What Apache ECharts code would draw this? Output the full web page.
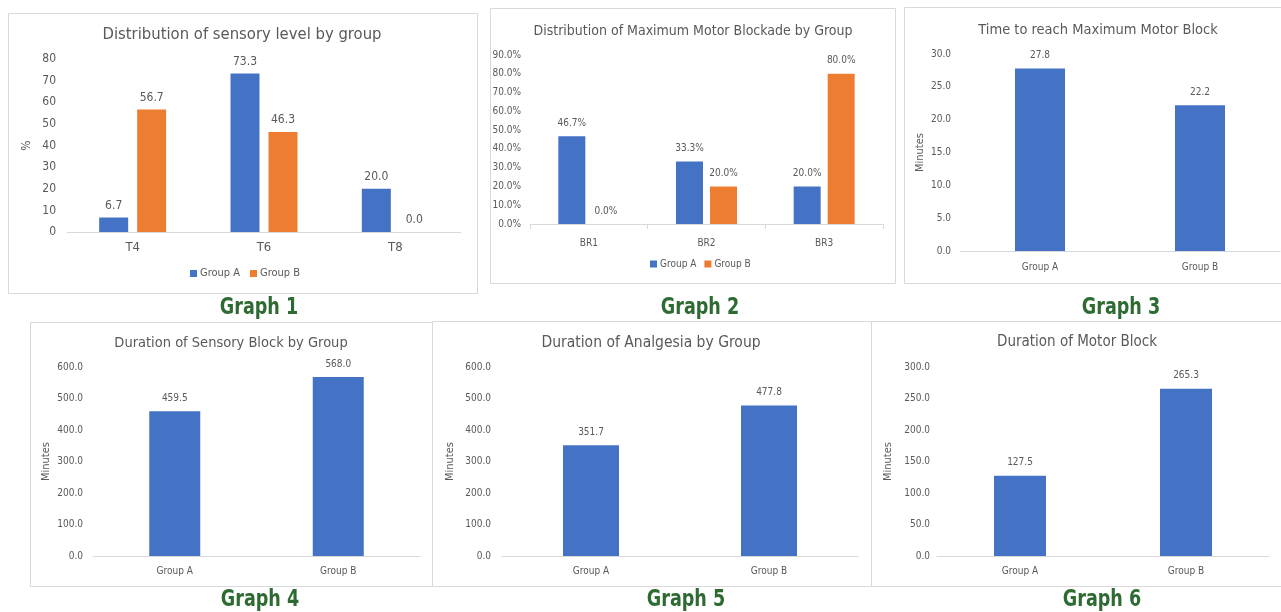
<!DOCTYPE html>
<html>
<head>
<meta charset="utf-8">
<script src="https://cdn.jsdelivr.net/npm/echarts@6/dist/echarts.min.js"></script>
<style>
  html, body { margin: 0; padding: 0; background: #fff; }
  #main { width: 1281px; height: 612px; }
</style>
</head>
<body>
<div id="main"></div>
<script>
// data
const groupNames = ["Group A", "Group B"];
const sensoryLevels = ["T4", "T6", "T8"];
const sensoryA = [6.7, 73.3, 20.0];
const sensoryB = [56.7, 46.3, 0.0];
const blockadeLevels = ["BR1", "BR2", "BR3"];
const blockadeA = [46.7, 33.3, 20.0];
const blockadeB = [0.0, 20.0, 80.0];
const timeToMaxBlock = [27.8, 22.2];
const sensoryDuration = [459.5, 568.0];
const analgesiaDuration = [351.7, 477.8];
const motorDuration = [127.5, 265.3];

const BLUE = "#4472c4";
const ORANGE = "#ed7d31";
const GREY = "#595959";
const FONT = "'Liberation Sans Narrow', 'DejaVu Sans Condensed', sans-serif";

// panel layout: frame box, grid box, title position etc.
const panels = [
  { box: [8, 13, 469, 280], grid: [67, 59, 394, 173], title: "Distribution of sensory level by group", tx: 242, ty: 26, tsize: 16.5, ymax: 80, step: 10, lsize: 12, pct: false, yname: "%", ygap: 34, lmargin: 9, ymargin: 11, label: "Graph 1", gx: 259, gy: 308 },
  { box: [490, 8, 405, 275], grid: [530, 55, 353, 169], title: "Distribution of Maximum Motor Blockade by Group", tx: 693, ty: 24, tsize: 14, ymax: 90, step: 10, lsize: 10, pct: true, yname: "", ygap: 0, lmargin: 14, ymargin: 9, label: "Graph 2", gx: 700, gy: 308 },
  { box: [904, 7, 400, 276], grid: [960, 54, 320, 197], title: "Time to reach Maximum Motor Block", tx: 1098, ty: 23, tsize: 14.5, ymax: 30, step: 5, lsize: 10, pct: false, yname: "Minutes", ygap: 34, lmargin: 11, ymargin: 9, label: "Graph 3", gx: 1121, gy: 308 },
  { box: [30, 322, 402, 264], grid: [93, 367, 327, 189], title: "Duration of Sensory Block by Group", tx: 231, ty: 336, tsize: 14.5, ymax: 600, step: 100, lsize: 10, pct: false, yname: "Minutes", ygap: 41, lmargin: 10, ymargin: 10, label: "Graph 4", gx: 260, gy: 600 },
  { box: [432, 321, 439, 265], grid: [502, 367, 356, 189], title: "Duration of Analgesia by Group", tx: 651, ty: 335, tsize: 15.5, ymax: 600, step: 100, lsize: 10, pct: false, yname: "Minutes", ygap: 46, lmargin: 10, ymargin: 11, label: "Graph 5", gx: 686, gy: 600 },
  { box: [871, 321, 420, 265], grid: [937, 367, 332, 189], title: "Duration of Motor Block", tx: 1077, ty: 335, tsize: 15, ymax: 300, step: 50, lsize: 10, pct: false, yname: "Minutes", ygap: 43, lmargin: 10, ymargin: 7, label: "Graph 6", gx: 1102, gy: 600 }
];

const categories = [sensoryLevels, blockadeLevels, groupNames, groupNames, groupNames, groupNames];

var grids = [], xAxes = [], yAxes = [], titles = [], graphics = [];
panels.forEach(function (p, i) {
  grids.push({ left: p.grid[0], top: p.grid[1], width: p.grid[2], height: p.grid[3] });
  titles.push({
    text: p.title, left: p.tx, top: p.ty, textAlign: "center", padding: 0,
    textStyle: { color: GREY, fontSize: p.tsize, fontWeight: "normal", fontFamily: FONT }
  });
  xAxes.push({
    type: "category", gridIndex: i, data: categories[i],
    axisLine: { lineStyle: { color: "#d9d9d9" } },
    axisTick: { show: i === 1, length: 5, lineStyle: { color: "#d9d9d9" } },
    axisLabel: { color: GREY, fontSize: p.lsize + (i === 0 ? 1 : 0), fontFamily: FONT, margin: p.lmargin }
  });
  yAxes.push({
    type: "value", gridIndex: i, min: 0, max: p.ymax, interval: p.step,
    name: p.yname, nameLocation: "middle", nameRotate: 90, nameGap: p.ygap,
    nameTextStyle: { color: GREY, fontSize: i === 0 ? 12 : 11, fontFamily: FONT },
    splitLine: { show: false }, axisLine: { show: false }, axisTick: { show: false },
    axisLabel: {
      color: GREY, fontSize: i === 0 ? 12 : p.lsize, fontFamily: FONT, margin: p.ymargin,
      formatter: function (v) {
        if (i === 0) return String(v);
        return v.toFixed(1) + (p.pct ? "%" : "");
      }
    }
  });
  graphics.push({
    type: "rect", silent: true, z: -1,
    shape: { x: p.box[0] + 0.5, y: p.box[1] + 0.5, width: p.box[2], height: p.box[3] },
    style: { fill: "#fff", stroke: "#d9d9d9", lineWidth: 1 }
  });
  // caption under each panel, squeezed a little like the condensed original
  graphics.push({
    type: "text", silent: true, x: p.gx, y: p.gy, scaleX: 0.85,
    style: {
      text: p.label, fill: "#2e6b32", fontSize: 23, fontWeight: "bold", fontFamily: FONT,
      textAlign: "center", textVerticalAlign: "middle"
    }
  });
});

function barLabel(pct, size, dist) {
  return {
    show: true, position: "top", distance: dist, color: GREY, fontSize: size, fontFamily: FONT,
    formatter: function (d) { return d.value.toFixed(1) + (pct ? "%" : ""); }
  };
}

var series = [
  { name: "Group A", type: "bar", xAxisIndex: 0, yAxisIndex: 0, data: sensoryA, barWidth: 29, barGap: "31%", itemStyle: { color: BLUE }, label: barLabel(false, 12, 6) },
  { name: "Group B", type: "bar", xAxisIndex: 0, yAxisIndex: 0, data: sensoryB, barWidth: 29, barGap: "31%", itemStyle: { color: ORANGE }, label: barLabel(false, 12, 6) },
  { name: "Group A", type: "bar", xAxisIndex: 1, yAxisIndex: 1, data: blockadeA, barWidth: 27, barGap: "26%", itemStyle: { color: BLUE }, label: barLabel(true, 10, 8) },
  { name: "Group B", type: "bar", xAxisIndex: 1, yAxisIndex: 1, data: blockadeB, barWidth: 27, barGap: "26%", itemStyle: { color: ORANGE }, label: barLabel(true, 10, 8) },
  { name: "Time", type: "bar", xAxisIndex: 2, yAxisIndex: 2, data: timeToMaxBlock, barWidth: 50, itemStyle: { color: BLUE }, label: barLabel(false, 10, 8) },
  { name: "Sensory", type: "bar", xAxisIndex: 3, yAxisIndex: 3, data: sensoryDuration, barWidth: 51, itemStyle: { color: BLUE }, label: barLabel(false, 10, 8) },
  { name: "Analgesia", type: "bar", xAxisIndex: 4, yAxisIndex: 4, data: analgesiaDuration, barWidth: 56, itemStyle: { color: BLUE }, label: barLabel(false, 10, 8) },
  { name: "Motor", type: "bar", xAxisIndex: 5, yAxisIndex: 5, data: motorDuration, barWidth: 52, itemStyle: { color: BLUE }, label: barLabel(false, 10, 8) }
];

var chart = echarts.init(document.getElementById("main"), null, { renderer: "canvas" });
chart.setOption({
  animation: false,
  backgroundColor: "#fff",
  title: titles,
  grid: grids,
  xAxis: xAxes,
  yAxis: yAxes,
  legend: [
    { data: groupNames, left: 190, top: 268, padding: 0, icon: "rect", itemWidth: 7, itemHeight: 7, itemGap: 10,
      textStyle: { color: GREY, fontSize: 11, fontFamily: FONT, padding: [0, 0, 0, -2] } },
    { data: groupNames, left: 650, top: 259, padding: 0, icon: "rect", itemWidth: 7, itemHeight: 7, itemGap: 8,
      textStyle: { color: GREY, fontSize: 10, fontFamily: FONT, padding: [0, 0, 0, -2] } }
  ],
  graphic: graphics,
  series: series
});
</script>
</body>
</html>
